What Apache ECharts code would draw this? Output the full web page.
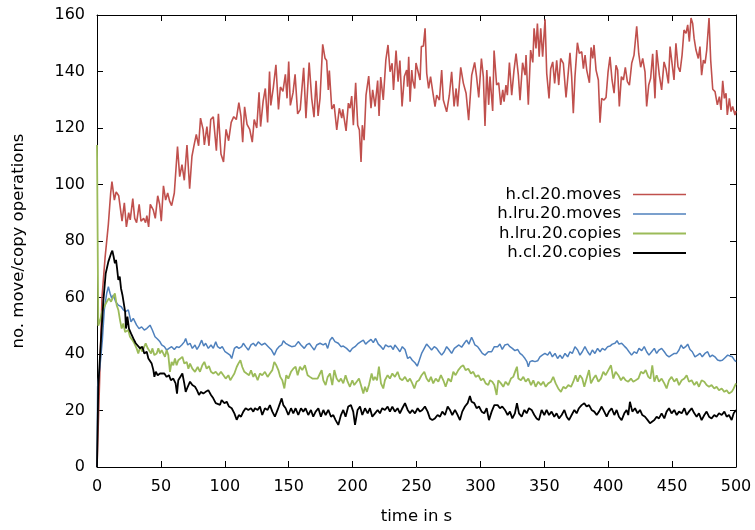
<!DOCTYPE html>
<html>
<head>
<meta charset="utf-8">
<script src="https://cdn.jsdelivr.net/npm/echarts@6/dist/echarts.min.js"></script>
<style>
html,body{margin:0;padding:0;background:#fff;}
#chart{width:755px;height:530px;}
</style>
</head>
<body>
<div id="chart"></div>
<script>
// ---- data: [time in s, operations] ----
const seriesNames = ['h.cl.20.moves', 'h.lru.20.moves', 'h.lru.20.copies', 'h.cl.20.copies'];
const xTicks = [0, 50, 100, 150, 200, 250, 300, 350, 400, 450, 500];
const yTicks = [0, 20, 40, 60, 80, 100, 120, 140, 160];

const clMoves = [[0,0],[2,30],[3.9,60],[6.3,74],[8.9,86],[10.7,97],[11.7,101],[13.6,94.5],[15,97.4],[17,96],[18,95.5],[19.6,87],[21.4,93.5],[23,85],[24.8,90],[26,87.5],[28,95],[29.5,88],[31,86.5],[33,93],[34.4,87],[36.5,88],[38,86.5],[39,89],[40.4,85],[41.7,93],[44,91],[45.6,88],[47.5,96],[49,93],[50.3,87],[52,99.5],[53.7,94.5],[55.3,97],[56.9,94],[58.4,92.5],[60.5,97],[63,113.4],[64.7,102.8],[66.5,107],[68.3,101.5],[70.4,114],[72.5,98.5],[74.3,110],[76,114],[77.7,117.7],[79.5,113.7],[81,123.5],[83,119.5],[84,114],[86,120.5],[87.6,113.7],[89,123],[91,124],[93.4,112],[95,125],[97,110.8],[99,108],[101,119.5],[103,115.5],[105,122],[107,124],[109,123],[111,129],[112.7,124],[114,115],[115.5,127.5],[117.4,121.3],[119.5,119.5],[121.5,115],[123,123],[125,120],[126.8,132.6],[128,120.5],[130,129.5],[131.7,134],[133.5,122],[135,140],[136,128],[138,134.5],[140,142.4],[142,126.6],[143.5,134.5],[145.5,133],[147.4,139],[148.7,130.5],[150,143.5],[151.3,128],[153.4,132.5],[155,139],[157,125],[159,126.5],[161.7,141.3],[163.5,123.5],[166,143.2],[168,130.5],[169.8,123.8],[171.4,136.7],[173,124.3],[174.5,130.5],[176.6,149.6],[178.4,144.7],[179.7,143.9],[181,133.5],[181.8,140.3],[183.7,126.7],[185.5,128.4],[187.6,119.3],[189.6,127],[191.5,123.5],[192.3,126.6],[194.9,119],[196.7,128.8],[198,127],[199.3,131.3],[200.6,121],[202.4,136],[204,121],[205.3,119.3],[206.6,108],[207.6,121],[209,115.7],[210.5,131.6],[212.6,138.4],[214.4,127],[215.7,133.5],[217.6,127.6],[219.6,136.8],[220.7,124.3],[222,138],[224,129.9],[226,144],[227.2,143.5],[227.7,149.4],[229.3,139.9],[230.9,142.9],[232,133.5],[234,147.4],[235.6,136.4],[237,143.9],[238.7,127.6],[240.5,138.2],[242.3,140.5],[243,134.6],[243.9,145.2],[245,129.3],[246.3,140.5],[247,137],[248.6,134],[249.6,143],[250.7,143.2],[252.8,137],[253.8,148.8],[255.4,149],[256.7,155.3],[258,139.3],[259.5,134],[261,138.2],[262.7,132.9],[264.5,127.6],[265.8,131.6],[267.9,129.9],[269.7,140.5],[271,129.9],[273.6,125.7],[275.7,131.6],[277.5,139.9],[279.4,127.6],[281,134],[282.2,127.6],[284.6,141.5],[286.7,135.8],[288.8,132.3],[290.8,122.8],[293.2,138.7],[295.5,143.2],[297,138.2],[298.7,130.8],[300.8,144.6],[302.3,138.2],[303.6,120.7],[305,140.5],[306.5,128.2],[307.5,138.2],[309.6,126],[310.7,147.4],[312.7,135.2],[314.3,136],[315.9,128.2],[317.5,133.5],[318.5,129.3],[320,135.2],[321.1,131.6],[322.7,143.2],[324.5,131.6],[326.3,140.5],[327.9,146.3],[329.7,138.7],[331,129.8],[333,143.1],[335,138.7],[335.7,145.8],[337.5,128.2],[339.3,147.6],[341,143.2],[342,155.3],[343.5,148.2],[344.6,157],[346,145.2],[347.2,155.3],[348.7,145.2],[350.6,158.5],[351.9,139.3],[353.7,130.5],[355,141],[356.6,143.4],[358.1,135.8],[359.7,144],[361.3,135.2],[362.8,144.6],[364.9,142.9],[367,130.8],[368,135.8],[370.1,146.6],[371.4,138.2],[372.7,125.2],[374,138.2],[375.9,150.2],[377.4,146.4],[379.3,147],[380.6,141],[381.9,145.8],[383.2,140.5],[385.3,136],[386.6,148.5],[387.9,144.6],[388.9,149.4],[390.5,140.5],[392.3,137],[393.6,121.9],[394.9,130.5],[396.7,129.9],[398.3,130.8],[399.9,139.9],[401.4,145.2],[403,137],[404.6,132.3],[406.1,142.2],[407.4,140.5],[408.7,127.6],[410.3,138.2],[411.9,137],[413.4,141.5],[415,136.4],[416.6,135.2],[418.4,142.9],[420.2,145.8],[422.3,156],[423.9,146.3],[425.4,141.5],[427,144.6],[428.8,139.9],[430.1,127.6],[431.7,135.2],[433.2,137.6],[434.8,146.3],[436.6,130.5],[437.9,147.6],[440,138.7],[441.8,133.5],[443.7,143.4],[445.2,141],[447.1,135.8],[448.4,148.8],[449.7,149.4],[451.5,137],[453,150],[454.6,141.8],[456.2,139.9],[457.8,145.8],[459.3,154.7],[460.9,153.5],[462.2,156.5],[463.5,150.6],[464.8,158.9],[466.1,157],[467.2,151.8],[468.7,147.6],[470.5,144.6],[471.8,148.8],[473.1,138.7],[474.5,144],[475.8,142.9],[477.1,147.6],[478.9,158.9],[480.2,144],[481.8,133.7],[483.6,132.9],[485.4,128.2],[487,131.1],[488.3,126.4],[489.6,136.7],[490.9,130.5],[492.2,132.3],[493.2,124.6],[494.8,130.5],[496.1,125.8],[497.4,127.6],[499.2,124.6],[500,126]];

const lruMoves = [[0,0],[0.5,28.5],[2.3,35.5],[4.2,45],[5.7,55.6],[7.6,61.5],[8.9,63.8],[10.2,61.5],[11.5,59.7],[12.8,60.9],[14.6,58.5],[16.7,57.3],[18.8,56.8],[20.6,55.6],[22.4,55],[24.5,55.6],[26.6,51.4],[28.4,52.6],[29.7,52],[31,50.2],[32.9,49],[34.9,49.6],[37,48.5],[38.9,49],[40.2,49.6],[41.5,50.2],[43.3,48.5],[45.4,46.1],[47.5,45.2],[49.3,44.3],[50.6,43.2],[52.7,42.6],[54.5,41.4],[56.3,42],[58.4,42.6],[60.5,41.6],[62.3,42.6],[64.2,42.3],[66.3,43.2],[68.3,44.3],[69.4,45.5],[71,43.2],[72.8,43.8],[74.6,42],[76.7,43.2],[78.2,41.6],[79.8,42.8],[81.9,44.9],[83.5,42.8],[85,43.8],[87.1,42],[89.2,43.2],[91,42],[92.9,44.3],[94.4,42.6],[96.3,42],[98,42.6],[100.2,40.8],[102.2,40.2],[104.1,39.6],[105.4,38.4],[107.5,42],[109.3,42.6],[111,42],[113.2,42.6],[114.5,43.8],[116.3,42.6],[118.4,41.4],[120.5,43.2],[122.3,43.8],[124.1,42.8],[126.2,44.3],[128.8,43.2],[131.4,43.8],[134,42.6],[136.6,41.4],[138.7,39.6],[140.6,41.6],[142.4,42.6],[144.5,43.2],[145.8,44.7],[147.6,43.8],[149.7,43.2],[152.3,42.6],[154.9,42.8],[157.5,44.4],[159.6,43.2],[162.2,42],[164,43.2],[166.1,43.8],[168,42.6],[170,41.4],[171.9,43.2],[174.5,43.8],[177,43.2],[178.9,43.8],[180.5,42],[182.3,44.9],[184.1,45.9],[186.2,44.4],[188.8,43.8],[190.9,42.6],[192.7,42.8],[195.3,42],[197.9,40.8],[199.8,42],[201.9,42.6],[204.5,43.8],[206.5,44.4],[208.4,44.9],[210.2,43.5],[212.3,44.4],[214.4,45.2],[216.2,44],[218,45.5],[220.1,43.5],[222.2,42.6],[224,41.6],[225.8,43.2],[227.9,42.6],[230,42.8],[231.8,41.6],[233.1,43.2],[235.2,42],[237,40.8],[238.9,42.6],[241,41.6],[243.1,38.4],[244.9,39],[246.7,37.8],[248.8,36.9],[250.6,35.7],[252.2,37.8],[254,40.2],[256.1,42],[257.9,43.5],[259.7,42.6],[261.8,41.4],[263.9,42.6],[265.8,42],[267.6,40.8],[269.7,39.6],[271.7,40.8],[273.6,42.6],[275.4,41.6],[277.5,40.2],[279.6,42],[281.4,42.6],[283.2,43.2],[285.3,42.4],[287.4,43.8],[289.2,44.9],[291,43.5],[293.1,45.9],[294.4,44.7],[295.7,43.2],[297.8,42.6],[299.7,41.4],[301.5,40.2],[303.6,39.6],[306.2,40.8],[308.8,40.8],[310.9,42.6],[313.5,42.6],[315.3,43.5],[317.1,41.6],[319.2,43.2],[321.3,43.5],[323.1,42.6],[325,42],[327,41.2],[329.1,41.6],[331,40.2],[332.8,39.6],[334.9,38.4],[336.4,37.3],[337.5,35.5],[338.8,37.3],[340.6,37.6],[342.7,37.3],[344.8,37.6],[346.6,39],[348.4,39.6],[350.5,40.2],[352.6,39.6],[354.4,40.8],[356.3,39],[358.4,40.2],[360.4,38.4],[362.3,39.6],[364.1,38.4],[366.2,40.2],[368.3,39],[370.1,40.8],[371.9,40.2],[374,42.6],[376.1,41.4],[377.9,39.6],[379.7,40.8],[381.8,42.6],[383.9,40.8],[385.7,39.6],[387.6,41.4],[389.6,40.2],[391.7,42],[393.6,40.8],[395.4,42],[397.5,41.4],[399.6,42.6],[401.4,42.8],[403.2,43.5],[405.3,43.8],[406.9,44.7],[408.4,43.5],[410.5,43.8],[412.6,42.8],[414.4,42],[416.3,40.8],[418.3,39.6],[420.4,40.8],[422.3,40.2],[424.1,42],[426.2,41.2],[428.2,42.6],[430.1,40.8],[431.9,39.6],[434,40.8],[436.1,42],[437.9,40.2],[439.7,41.4],[441.8,42],[443.9,40.8],[445.7,39.6],[447.6,39],[449.6,39.6],[451.7,40.2],[453.6,40.2],[455.4,41.4],[457,43.2],[458.8,42],[460.6,42.6],[462.2,43.5],[464,41.6],[465.8,40.8],[467.9,39],[470,39.6],[471.8,40.2],[473.6,39],[475.7,40.2],[477.8,40.8],[479.6,39],[481.5,39.6],[483.5,39],[485.6,37.9],[487.5,37.6],[489.3,37.8],[491.4,38.7],[493.5,39.6],[495.3,39.3],[497.1,39],[498.7,37.9],[500,37.3]];

const lruCopies = [[0,114],[1,50],[2.5,52],[4,55],[5.7,56.8],[7.6,58.5],[9.4,59.7],[11,58.5],[12.8,60.3],[14,61.5],[15.4,57.3],[16.7,55.6],[18,52],[19.3,49],[20.6,50.8],[22,47.8],[23.2,47.3],[24.5,48.5],[25.8,46.1],[27.6,45],[29.2,43.8],[31,42],[32.3,40.2],[33.9,42.6],[35.5,40.8],[37,42.6],[38.1,43.8],[39.7,42],[40.7,42.6],[42.3,40.2],[43.3,42],[44.9,39.6],[46.7,40.2],[48,42],[49.3,40.2],[50.6,41.4],[51.9,42],[53.2,39],[54.5,41.4],[55.8,39.6],[57.1,33.7],[58.4,37.2],[59.7,36],[61,38.4],[62.3,36],[63.6,37.8],[64.9,37.2],[66.8,39],[68.3,36.6],[70.2,37.2],[71.5,34.8],[72.8,36.6],[74.6,34.8],[76.7,33.7],[78.8,35.4],[80.6,33.7],[82.4,36],[84,37.2],[85.8,34.8],[87.6,35.7],[89.2,33.7],[91,33.1],[92.9,33.7],[95,32.5],[97,33.7],[98.9,32.5],[100.7,31.3],[102.8,32.5],[104.3,30.7],[105.9,31.9],[107.5,33.1],[109.3,35.4],[110.6,36.6],[112.2,37.8],[113.7,35.4],[115.3,33.7],[117.1,33.1],[119,32.5],[120.5,34.2],[122.3,31.9],[123.6,33.1],[125.7,30.7],[127.5,33.1],[129.3,32.5],[131.4,33.7],[133.5,31.9],[135.3,33.1],[137.2,34.3],[138.7,37.2],[140.3,36],[141.9,34.3],[143.4,31.9],[145,30.7],[146.6,27.8],[148.1,32.5],[149.7,31.3],[151.8,33.7],[153.6,34.8],[155.4,35.5],[157,32.5],[158.8,35.5],[160.6,34.3],[162.7,36],[164.8,32.5],[166.6,31.9],[168.5,31.3],[170.5,31.3],[172.6,31.3],[174.5,33.1],[175.8,34.3],[177.1,30.7],[178.9,29],[180.5,31.9],[182.3,33.1],[184.1,29],[185.7,34.3],[187.5,31.3],[189.3,30.2],[190.9,31.3],[192.7,29.6],[194.5,32.5],[196.1,30.2],[197.9,28.4],[199.8,30.7],[201.3,29],[203.2,30.2],[205,31.3],[206.5,29],[208.4,26],[209.7,28.4],[211.2,26.6],[212.8,29],[214.9,33.1],[216.2,30.7],[217.5,31.9],[219.1,30.7],[220.6,35.5],[222.2,29.6],[224,27.8],[225.3,30.7],[227.4,32.5],[229.2,31.3],[231.1,33.1],[233.1,31.9],[235.2,33.7],[237,31.3],[238.9,30.7],[241,31.9],[243.1,30.2],[244.9,31.3],[246.7,29.6],[248.3,27.8],[250.1,30.2],[251.9,30.7],[254,32.5],[256.1,33.7],[257.9,31.3],[259.7,30.2],[261.3,31.9],[263.1,29.6],[265,31.3],[267.1,30.2],[269.1,32.5],[271,30.7],[272.8,28.4],[274.9,31.3],[277,30.2],[278.8,33.7],[280.6,32.5],[282.7,34.3],[284.8,35.5],[286.6,36],[288.4,34.3],[290.5,34.8],[292.6,33.1],[294.4,33.7],[296.3,31.9],[298.4,32.5],[300.4,30.7],[302.3,31.3],[304.1,29.6],[306.2,29],[307.5,30.7],[309.3,30.2],[310.9,29],[311.4,28.4],[312.7,25.5],[314,30.7],[316.1,29.6],[317.9,28.4],[319.7,30.2],[321.8,29],[323.9,31.3],[325.7,31.9],[327.6,34.3],[328.6,35.5],[329.7,31.3],[331.7,30.7],[333.6,31.9],[335.4,30.2],[337.5,31.3],[339.6,29],[341.4,30.7],[343.2,28.4],[345.3,30.2],[347.4,29],[349.2,30.2],[351.1,28.4],[353.1,29.6],[355.2,30.2],[357,31.9],[358.9,29.6],[360.9,27.8],[363,26.6],[364.9,28.4],[366.7,27.8],[368.8,29],[370.9,28.4],[372.7,30.2],[374.5,32.5],[376.1,30.2],[377.9,32.5],[379.7,31.3],[381.3,28.4],[383.1,31.3],[385,34.3],[386.5,29.6],[388.4,31.3],[390.2,32.5],[392.3,30.2],[394.3,31.3],[396.2,33.7],[398,32.5],[400.1,34.3],[402.2,36],[404,31.3],[405.8,33.7],[407.9,32.5],[410,30.7],[411.8,31.9],[413.6,30.7],[415.7,30.2],[417.8,31.3],[419.6,30.2],[421.5,30.7],[423.6,31.3],[425.6,33.7],[427.5,33.1],[429.3,34.3],[431.4,31.9],[433,31.3],[434.5,36],[436.1,30.2],[437.9,32.5],[439.7,30.2],[441.8,31.3],[443.9,29.6],[445.7,27.8],[447.6,30.7],[449.6,31.9],[451.7,30.2],[453.6,31.3],[455.4,29],[457.5,30.7],[459.6,31.3],[461.4,32.5],[463.2,30.2],[465.3,30.7],[467.4,29],[469.2,30.2],[471,28.4],[473.1,30.7],[475.2,30.2],[477,29],[478.9,28.4],[480.9,29],[483,27.8],[484.8,28.4],[486.7,27.2],[488.8,27.8],[490.9,26.6],[492.7,27.2],[494.5,26],[496.6,26.6],[498.2,27.8],[500,29.6]];

const clCopies = [[0,0],[1,28.5],[3.1,45],[5,59],[6.8,68.5],[8.9,72.7],[11,75.6],[12,76.6],[13,74.5],[14,72.1],[14.9,73.3],[15.7,70.3],[16.7,66.2],[17.8,67.4],[18.8,63.2],[19.9,60.9],[20.9,61.5],[22,55],[22.7,49],[23.8,53.2],[25,49],[26.6,47.3],[28.4,45.5],[30.3,43.8],[31.8,44.3],[33.7,42],[35.5,42.6],[37,40.2],[38.9,40.8],[40.2,38.4],[41.5,39],[42.8,36.6],[44.1,34.3],[44.9,31.9],[46,33.7],[47.5,32.5],[49.3,33.1],[50.6,32.5],[52.7,33.1],[54.5,31.9],[56.3,32.5],[57.8,30.7],[59.7,31.3],[61.5,29.6],[62.6,26],[63.6,30.7],[64.9,31.3],[66.8,33.1],[68.3,29.6],[69.4,26.6],[71,28.4],[72.8,30.2],[74.6,29],[76.7,28.4],[78.2,27.2],[79.8,25.5],[81.4,26.6],[83.2,26],[85,26.6],[87.1,27.2],[89.2,25.5],[91,24.3],[92.9,22.6],[94.4,23.1],[96.3,22],[97.5,23.7],[99.7,22.6],[101.5,23.1],[103.3,21.4],[105.4,20.8],[107.5,19],[109.3,16.7],[111,18.4],[112.7,17.8],[114.5,19.6],[116.3,20.8],[118.4,20.2],[120.5,20.8],[122.3,19.6],[123.6,20.8],[125.7,20.2],[127.5,21.4],[129.3,18.4],[131.4,20.8],[133.5,20.2],[135.3,21.9],[137.2,19.6],[139.2,17.8],[141.3,20.2],[143.2,22.6],[144.5,24.3],[145.8,21.9],[147.6,20.8],[149.7,18.4],[151.8,20.8],[153.6,19],[155.4,20.8],[157.5,18.4],[159.6,20.8],[161.4,19.6],[163.2,20.8],[165.3,18.4],[167.4,20.2],[169.2,17.8],[171.1,19.6],[173.2,20.8],[175.2,17.8],[177.1,20.2],[178.9,18.4],[181,20.2],[183.1,17.8],[184.9,18.4],[186.7,16.6],[188.8,14.9],[190.9,18.4],[192.7,20.2],[194.5,17.8],[196.6,21.4],[198.7,21.9],[200.5,19.6],[201.9,14.9],[203.9,20.2],[205.8,21.4],[207.6,18.4],[209.7,20.8],[211.8,19],[213.6,20.8],[215.4,17.8],[217.5,19],[219.6,20.2],[221.4,19],[223.2,20.8],[225.3,20.2],[227.4,21.4],[229.2,19.6],[231.1,21.4],[233.1,19.6],[235.2,20.8],[237,19],[238.9,20.8],[241,22.6],[243.1,20.2],[244.9,19],[246.7,20.2],[248.8,19],[250.9,20.8],[252.7,19.6],[254.5,20.2],[256.6,21.4],[258.7,19.6],[260.5,17.2],[262.4,16.6],[264.4,17.2],[266.5,18.4],[268.4,17.8],[270.2,19.6],[272.3,18.4],[274.4,21.4],[276.2,20.2],[278,18.4],[280.1,20.2],[282.2,18.4],[284,16.6],[285.8,19.6],[287.9,21.4],[290,22.6],[291.8,25.1],[293.1,23.1],[295.2,22.6],[297,20.8],[298.9,21.4],[301,19.6],[303,19],[304.9,20.8],[306.7,16.6],[308.8,19.6],[310.9,21.9],[313.5,21.9],[315.3,20.8],[317.1,21.4],[319.2,20.2],[321.3,18.4],[323.1,19.6],[325,17.2],[327,19],[328.6,22.6],[330.2,19],[332.3,17.8],[334.4,20.2],[336.2,19],[338,20.8],[340.1,20.2],[342.2,18.4],[344,17.2],[345.8,16.6],[347.9,20.2],[350,18.4],[351.8,20.2],[353.7,18.4],[355.7,19.6],[357.8,17.8],[359.6,19],[361.5,17.2],[363.6,18.4],[365.7,20.2],[367.5,17.8],[369.3,16.6],[371.4,18.4],[373.5,20.2],[375.3,19],[377.1,20.8],[379.2,21.9],[381.3,22.6],[383.1,21.4],[385,21.9],[387,20.2],[389.1,19.6],[391,18.4],[392.8,19.6],[394.9,21.4],[396.9,19.6],[398.8,17.8],[400.6,19.6],[402.7,20.8],[404.8,18.4],[406.6,20.2],[408.4,17.8],[410.5,16.6],[412.6,19],[414.4,20.2],[415.7,18.4],[417,23.1],[418.9,19.6],[421,20.8],[423,19],[424.9,20.2],[426.7,18.4],[428.8,17.8],[430.9,16.6],[432.7,15.5],[434,14.9],[436.1,16.6],[437.9,17.8],[439.7,17.2],[441.8,19],[443.9,17.2],[445.7,19.6],[447.6,20.8],[449.6,19],[451.7,20.2],[453.6,18.4],[455.4,19.6],[457.5,19],[459.6,20.8],[461.4,18.4],[463.2,19.6],[465.3,20.8],[467.4,19],[469.2,17.8],[471,19],[473.1,16.6],[475.2,18.4],[477,19.6],[478.9,17.8],[480.9,17.2],[483,18.4],[484.8,17.8],[486.7,19],[488.8,18.4],[490.9,19.6],[492.7,17.8],[494.5,18.4],[496.6,16.6],[498.2,19],[500,20.2]];

// ---- styling ----
const colors = ['#c0504d', '#4f81bd', '#9bbb59', '#000000'];
const widths = [1.6, 1.5, 1.8, 1.8];
const dataSets = [clMoves, lruMoves, lruCopies, clCopies];
const FONT = 'DejaVu Sans';

const chart = echarts.init(document.getElementById('chart'), null, {renderer: 'canvas'});

const axisCommon = {
  axisLine: {show: true, onZero: false, lineStyle: {color: '#000', width: 1}},
  axisTick: {show: true, inside: true, length: 6, lineStyle: {color: '#000', width: 1}},
  splitLine: {show: false}
};

const legendTops = [186, 205.5, 225, 244.5];

const option = {
  animation: false,
  backgroundColor: '#fff',
  grid: {left: 97, right: 19, top: 15, bottom: 62, containLabel: false},
  xAxis: [
    Object.assign({}, axisCommon, {
      type: 'value', position: 'bottom', min: xTicks[0], max: xTicks[xTicks.length - 1], interval: 50,
      axisLabel: {color: '#000', fontFamily: FONT, fontSize: 16, margin: 12},
      name: 'time in s', nameLocation: 'middle', nameGap: 41,
      nameTextStyle: {color: '#000', fontFamily: FONT, fontSize: 16.5}
    }),
    Object.assign({}, axisCommon, {
      type: 'value', position: 'top', min: xTicks[0], max: xTicks[xTicks.length - 1], interval: 50,
      axisLabel: {show: false}
    })
  ],
  yAxis: [
    Object.assign({}, axisCommon, {
      type: 'value', position: 'left', min: yTicks[0], max: yTicks[yTicks.length - 1], interval: 20,
      axisLabel: {color: '#000', fontFamily: FONT, fontSize: 16, margin: 12},
      name: 'no. move/copy operations', nameLocation: 'middle', nameGap: 70,
      nameTextStyle: {color: '#000', fontFamily: FONT, fontSize: 16.5}
    }),
    Object.assign({}, axisCommon, {
      type: 'value', position: 'right', min: yTicks[0], max: yTicks[yTicks.length - 1], interval: 20,
      axisLabel: {show: false}
    })
  ],
  legend: seriesNames.map((n, i) => ({
    data: [n],
    orient: 'horizontal',
    right: 69,
    top: legendTops[i],
    align: 'right',
    padding: 0,
    icon: 'rect',
    itemWidth: 53,
    itemHeight: widths[i],
    selectedMode: false,
    textStyle: {color: '#000', fontFamily: FONT, fontSize: 16.5, padding: [0, 7, 0, 0]}
  })),
  series: seriesNames.map((n, i) => ({
    name: n,
    type: 'line',
    xAxisIndex: 0,
    yAxisIndex: 0,
    data: dataSets[i],
    showSymbol: false,
    symbol: 'none',
    smooth: false,
    clip: true,
    color: colors[i],
    lineStyle: {color: colors[i], width: widths[i]},
    itemStyle: {color: colors[i]},
    z: 2 + i
  }))
};

chart.setOption(option);
</script>
</body>
</html>
